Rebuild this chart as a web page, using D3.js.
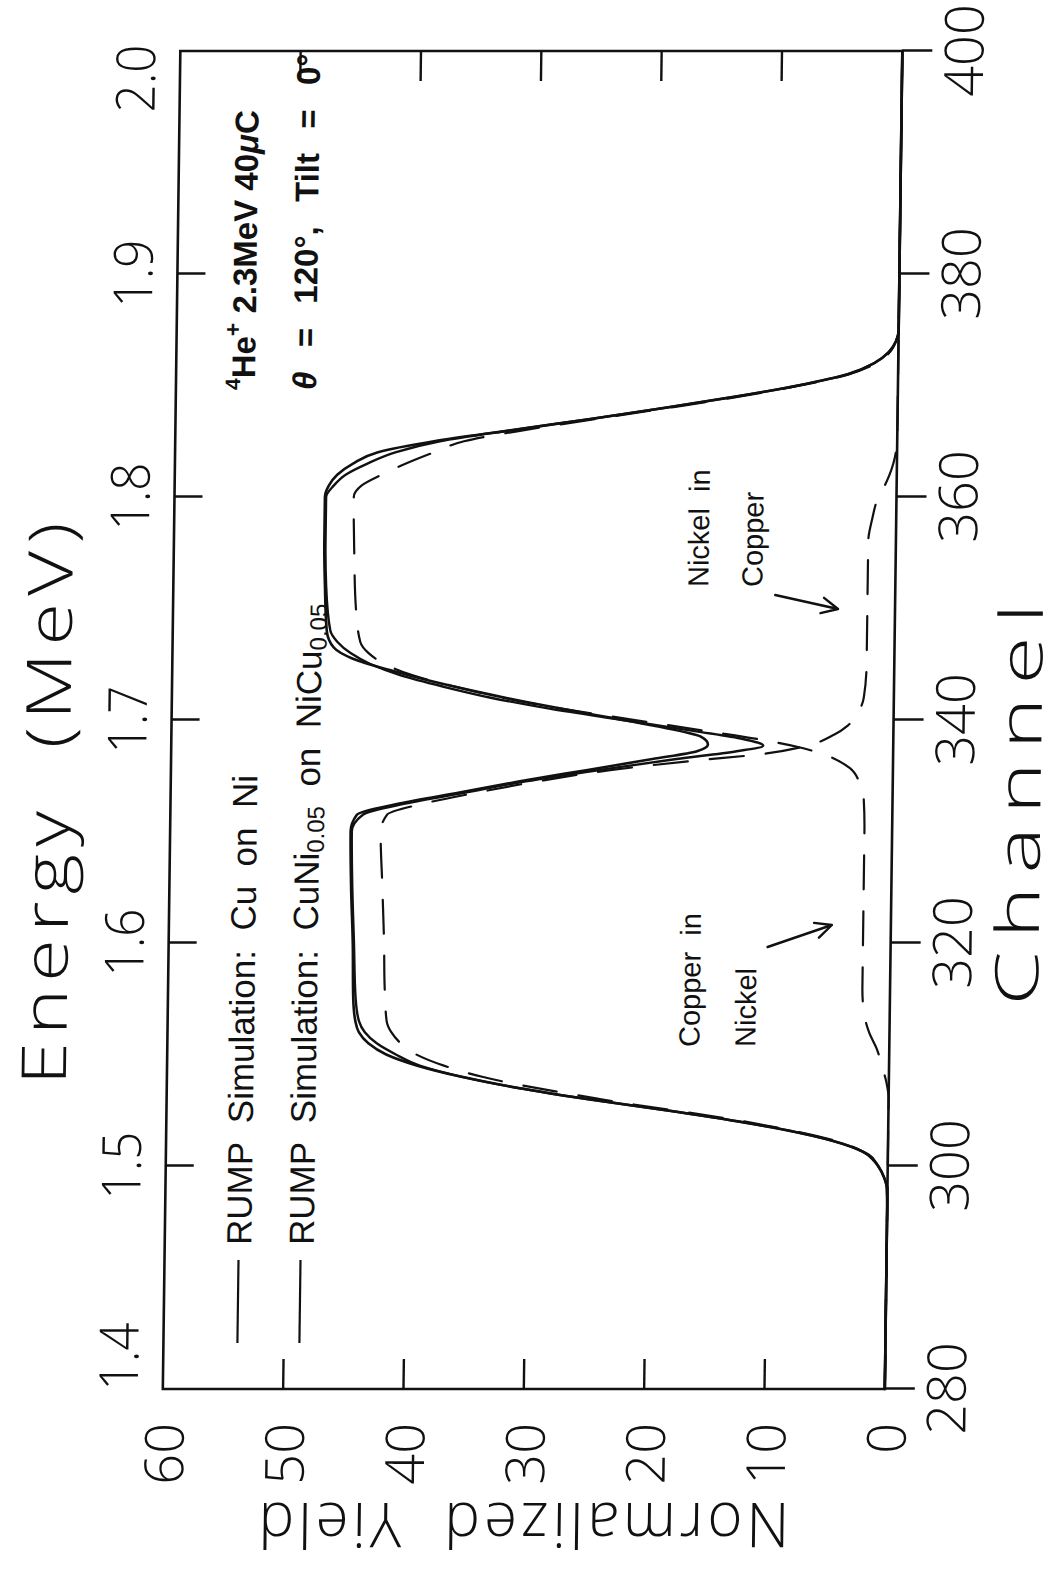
<!DOCTYPE html>
<html>
<head>
<meta charset="utf-8">
<script src="https://cdn.jsdelivr.net/npm/d3@7"></script>
<style>
  html, body { margin: 0; padding: 0; background: #fff; }
  svg { display: block; }
</style>
</head>
<body>
<svg id="chart" width="1059" height="1573"></svg>
<script>
// ---- Data: RUMP simulations of a 2.3 MeV 4He+ backscattering spectrum ----

// Simulation: Cu on Ni (solid)
const chCuOnNi = [280, 296, 298, 299, 300, 301, 302, 303, 304, 305, 306, 307, 308, 309, 310, 311, 312, 313, 315, 320, 325, 330,
  331.5, 332.5, 333.5, 334.5, 335.5, 336.5, 337.2, 337.8, 338.5, 339.5, 340.5, 341.5, 342.5, 343.5, 344.5, 345.5, 346.5, 348,
  352, 356, 360, 361, 362, 363, 364, 365, 366, 367, 368, 369, 370, 371, 372, 373, 374, 375, 400];
const yCuOnNi = [0, 0, 0.05, 0.3, 0.8, 1.6, 3.8, 7.5, 12.5, 18.5, 25, 30.8, 35.5, 39.2, 41.8, 43.3, 44.1, 44.4, 44.6, 44.7, 44.9, 45.0,
  44.5, 41, 36, 31, 25.5, 20, 16.3, 15.4, 16, 20, 25, 30, 34.5, 38.5, 42, 45, 46.6, 47.2,
  47.4, 47.5, 47.5, 47.2, 46.5, 45.2, 43.2, 38.5, 32, 25.5, 19.3, 13.5, 8.3, 4.2, 2.0, 0.8, 0.2, 0, 0];

// Simulation: CuNi0.05 on NiCu0.05 (solid)
const chCuNiOnNiCu = [280, 296, 298, 299, 300, 301, 302, 303, 304, 305, 306, 307, 308, 309, 310, 311, 312, 313, 315, 320, 325, 330,
  331.5, 332.5, 333.5, 334.5, 335.5, 336.5, 337.2, 337.7, 338.3, 339, 340, 341, 342, 343, 344, 345, 346, 347, 348,
  352, 356, 360, 361, 362, 363, 364, 365, 366, 367, 368, 369, 370, 371, 372, 373, 374, 375, 400];
const yCuNiOnNiCu = [0, 0, 0.05, 0.3, 0.8, 1.6, 3.8, 7.5, 12.5, 18.5, 25, 30.8, 35.5, 39, 41.0, 42.6, 43.6, 44.1, 44.4, 44.6, 44.8, 44.9,
  44.0, 40.5, 35.5, 30.5, 24.5, 18, 13, 10.8, 12.5, 16.5, 22.5, 28.5, 33.5, 37.5, 41, 43.5, 45.2, 46.3, 46.9,
  47.3, 47.4, 47.4, 46.8, 45.8, 44, 41.7, 38, 32, 25.5, 19.3, 13.5, 8.3, 4.2, 2.0, 0.8, 0.2, 0, 0];

// Elemental components of the CuNi0.05 on NiCu0.05 simulation (dashed)
const chNickelSignal = [280, 298, 300, 302, 304, 306, 308, 309, 310, 311, 312, 313, 316, 320, 325, 330,
  331.5, 332.5, 333.5, 334.5, 335.5, 336.3, 337, 337.6, 338.7, 339.5, 340.6, 342, 345, 356, 358, 360, 361, 362, 363, 364, 365, 400];
const yNickelSignal = [0, 0, 0.8, 3.6, 12, 24, 33.8, 37, 39.3, 40.6, 41.4, 41.8, 42.0, 42.1, 42.3, 42.5,
  42, 39, 34.5, 29.5, 23.5, 17, 10.5, 7.5, 4.9, 3.8, 3.0, 2.5, 2.3, 2.3, 2.0, 1.5, 1.0, 0.6, 0.3, 0.1, 0, 0];

const chCopperSignal = [280, 306, 307.5, 309, 310.4, 312, 313.5, 316, 330, 333, 334.5, 335.7, 337, 337.6, 338.2, 339, 340,
  341, 342, 343, 344, 345, 346, 347, 350, 355, 360, 361, 362, 363, 364, 365, 366, 367, 368, 369, 370, 371, 372, 373, 374, 375, 400];
const yCopperSignal = [0, 0, 0.2, 0.6, 1.0, 1.7, 2.1, 2.3, 2.3, 2.4, 2.8, 3.6, 6.0, 8.0, 10.8, 15.5, 21.5,
  27.5, 32.5, 36.5, 40, 42.3, 43.7, 44.4, 44.8, 45.0, 45.1, 44.5, 42.8, 40.8, 38.5, 36, 31, 25, 19, 13.2, 8.1, 4.1, 1.8, 0.7, 0.2, 0, 0];

// Axis ticks
const channelTicks = [280, 300, 320, 340, 360, 380, 400];
const yieldTicks = [0, 10, 20, 30, 40, 50, 60];
const energyTicks = [1.4, 1.5, 1.6, 1.7, 1.8, 1.9, 2.0];

// ---- Layout ----
// The plot is laid out landscape (channel across, yield up) and then
// turned a quarter turn counter-clockwise onto the portrait page.
const PAGE_W = 1059, PAGE_H = 1573;
const plot = { left: 184, right: 1522, top: 181, bottom: 903 };

const x = d3.scaleLinear().domain([280, 400]).range([plot.left, plot.right]);
const y = d3.scaleLinear().domain([0, 60]).range([plot.bottom, plot.top]);
const energy = d3.scaleLinear().domain([1.4, 2.0]).range([plot.left, plot.right]);

const svg = d3.select('#chart');
svg.append('rect').attr('width', PAGE_W).attr('height', PAGE_H).attr('fill', '#fff');

// slight paper skew of the printed figure
const page = svg.append('g').attr('transform', 'skewX(-0.75)');
const g = page.append('g').attr('transform', `translate(0,${PAGE_H}) rotate(-90)`);

const INK = '#111';
const thinFont = "'Open Sans', 'DejaVu Sans', sans-serif";
const textFont = "'Liberation Sans', Arial, sans-serif";

// ---- Frame ----
g.append('rect')
  .attr('x', plot.left).attr('y', plot.top)
  .attr('width', plot.right - plot.left).attr('height', plot.bottom - plot.top)
  .attr('fill', 'none').attr('stroke', INK).attr('stroke-width', 2.6);

// Channel axis (outward ticks)
const chAxis = g.append('g').attr('transform', `translate(0,${plot.bottom})`)
  .call(d3.axisBottom(x).tickValues(channelTicks).tickSize(30).tickPadding(12).tickFormat(d3.format('d')));
chAxis.select('.domain').remove();
chAxis.selectAll('line').attr('stroke', INK).attr('stroke-width', 2.4);
chAxis.selectAll('text')
  .attr('font-family', thinFont).attr('font-weight', 300).attr('font-size', 54)
  .attr('fill', INK).attr('dy', null).attr('y', 60).attr('dominant-baseline', 'central');

// Energy axis (inward ticks on the opposite side)
const enAxis = g.append('g').attr('transform', `translate(0,${plot.top})`)
  .call(d3.axisTop(energy).tickValues(energyTicks).tickSize(-28).tickFormat(d3.format('.1f')));
enAxis.select('.domain').remove();
enAxis.selectAll('.tick').filter(d => d === 1.4 || d === 2.0).select('line').remove();
enAxis.selectAll('line').attr('stroke', INK).attr('stroke-width', 2.4);
enAxis.selectAll('text')
  .attr('font-family', thinFont).attr('font-weight', 300).attr('font-size', 54)
  .attr('textLength', 68).attr('lengthAdjust', 'spacingAndGlyphs')
  .attr('fill', INK).attr('y', -46).attr('dominant-baseline', 'central')
  .attr('text-anchor', d => d === 1.4 ? 'start' : d === 2.0 ? 'end' : 'middle')
  .attr('dx', d => d === 1.4 ? -2 : d === 2.0 ? 6 : 0);

// Yield axis: labels on the left, inward ticks on both sides
const yAxis = g.append('g').attr('transform', `translate(${plot.left},0)`)
  .call(d3.axisLeft(y).tickValues(yieldTicks).tickSize(0).tickPadding(34).tickFormat(d3.format('d')));
yAxis.select('.domain').remove();
yAxis.selectAll('text')
  .attr('font-family', thinFont).attr('font-weight', 300).attr('font-size', 54)
  .attr('fill', INK).attr('dy', null).attr('dominant-baseline', 'central');

const innerYieldTicks = yieldTicks.filter(v => v > 0 && v < 60);
g.append('g').selectAll('line.yl').data(innerYieldTicks).join('line')
  .attr('x1', plot.left).attr('x2', plot.left + 30)
  .attr('y1', d => y(d)).attr('y2', d => y(d))
  .attr('stroke', INK).attr('stroke-width', 2.4);
g.append('g').selectAll('line.yr').data(innerYieldTicks).join('line')
  .attr('x1', plot.right).attr('x2', plot.right - 30)
  .attr('y1', d => y(d)).attr('y2', d => y(d))
  .attr('stroke', INK).attr('stroke-width', 2.4);

// ---- Axis titles (wide plotter lettering) ----
g.append('text')
  .attr('x', 773).attr('y', 56)
  .attr('text-anchor', 'middle').attr('dominant-baseline', 'central')
  .attr('font-family', thinFont).attr('font-weight', 300).attr('font-size', 62)
  .attr('letter-spacing', 6).attr('xml:space', 'preserve')
  .attr('textLength', 570).attr('lengthAdjust', 'spacingAndGlyphs')
  .attr('fill', INK).text('Energy  (MeV)');

g.append('text')
  .attr('x', 775).attr('y', 1028)
  .attr('text-anchor', 'middle').attr('dominant-baseline', 'central')
  .attr('font-family', thinFont).attr('font-weight', 300).attr('font-size', 60)
  .attr('letter-spacing', 9)
  .attr('textLength', 415).attr('lengthAdjust', 'spacingAndGlyphs')
  .attr('fill', INK).text('Channel');

g.append('text')
  .attr('transform', `translate(46,${(plot.top + plot.bottom) / 2}) rotate(-90)`)
  .attr('text-anchor', 'middle').attr('dominant-baseline', 'central')
  .attr('font-family', thinFont).attr('font-weight', 300).attr('font-size', 62)
  .attr('letter-spacing', 4).attr('xml:space', 'preserve')
  .attr('textLength', 535).attr('lengthAdjust', 'spacingAndGlyphs')
  .attr('fill', INK).text('Normalized  Yield');

// ---- Curves ----
const line = d3.line().x(d => x(d[0])).y(d => y(d[1])).curve(d3.curveMonotoneX);
const zip = (a, b) => a.map((c, i) => [c, b[i]]);

const curves = g.append('g').attr('fill', 'none').attr('stroke', INK)
  .attr('stroke-linejoin', 'round').attr('stroke-linecap', 'round');

curves.append('path').attr('d', line(zip(chNickelSignal, yNickelSignal)))
  .attr('stroke-width', 2.2).attr('stroke-dasharray', '34 22');
curves.append('path').attr('d', line(zip(chCopperSignal, yCopperSignal)))
  .attr('stroke-width', 2.2).attr('stroke-dasharray', '34 22');
curves.append('path').attr('d', line(zip(chCuOnNi, yCuOnNi)))
  .attr('stroke-width', 2.6);
curves.append('path').attr('d', line(zip(chCuNiOnNiCu, yCuNiOnNiCu)))
  .attr('stroke-width', 2.4);

// ---- Legend ----
const legend = g.append('g').attr('font-family', textFont).attr('font-size', 35).attr('fill', INK);
const legendRows = [255, 317];
legendRows.forEach(ry => {
  legend.append('line').attr('x1', 230).attr('x2', 313).attr('y1', ry).attr('y2', ry)
    .attr('stroke', INK).attr('stroke-width', 2.2);
});
const l1 = legend.append('text').attr('x', 328).attr('y', legendRows[0]).attr('dominant-baseline', 'central')
  .attr('xml:space', 'preserve');
l1.text('RUMP  Simulation:  Cu  on  Ni');
const l2 = legend.append('text').attr('x', 328).attr('y', legendRows[1]).attr('dominant-baseline', 'central')
  .attr('xml:space', 'preserve');
l2.append('tspan').text('RUMP  Simulation:  CuNi');
l2.append('tspan').attr('dy', 9).attr('font-size', 24).text('0.05');
l2.append('tspan').attr('dy', -9).text('  on  NiCu');
l2.append('tspan').attr('dy', 9).attr('font-size', 24).text('0.05');

// ---- Beam annotation ----
const note = g.append('g').attr('font-family', textFont).attr('font-weight', 'bold').attr('font-size', 33).attr('fill', INK);
const n1 = note.append('text').attr('x', 1183).attr('y', 248).attr('dominant-baseline', 'central')
  .attr('xml:space', 'preserve');
n1.append('tspan').attr('dy', -11).attr('font-size', 21).text('4');
n1.append('tspan').attr('dy', 11).text('He');
n1.append('tspan').attr('dy', -11).attr('font-size', 23).text('+');
n1.append('tspan').attr('dy', 11).text(' 2.3MeV 40');
n1.append('tspan').attr('font-style', 'italic').text('μ');
n1.append('tspan').text('C');

const n2 = note.append('text').attr('x', 1183).attr('y', 309).attr('dominant-baseline', 'central')
  .attr('xml:space', 'preserve').attr('word-spacing', 3);
n2.append('tspan').attr('font-style', 'italic').text('θ');
n2.append('tspan').text('  =  120°,  Tilt  =  0°');

// ---- Component labels with arrows ----
const labels = g.append('g').attr('font-family', textFont).attr('font-size', 29).attr('fill', INK);
labels.append('text').attr('x', 986).attr('y', 706).attr('dominant-baseline', 'central')
  .attr('xml:space', 'preserve').text('Nickel  in');
labels.append('text').attr('x', 986).attr('y', 760).attr('dominant-baseline', 'central').text('Copper');
labels.append('text').attr('x', 526).attr('y', 703).attr('dominant-baseline', 'central')
  .attr('xml:space', 'preserve').text('Copper  in');
labels.append('text').attr('x', 526).attr('y', 759).attr('dominant-baseline', 'central').text('Nickel');

function arrow(x1, y1, x2, y2) {
  const a = Math.atan2(y2 - y1, x2 - x1), len = 18, spread = 0.45;
  const path = d3.path();
  path.moveTo(x1, y1); path.lineTo(x2, y2);
  path.moveTo(x2 - len * Math.cos(a - spread), y2 - len * Math.sin(a - spread));
  path.lineTo(x2, y2);
  path.lineTo(x2 - len * Math.cos(a + spread), y2 - len * Math.sin(a + spread));
  g.append('path').attr('d', path.toString()).attr('fill', 'none')
    .attr('stroke', INK).attr('stroke-width', 2.4).attr('stroke-linecap', 'round').attr('stroke-linejoin', 'round');
}
arrow(978, 783, 964, 846);
arrow(626, 780, 648, 844);
</script>
</body>
</html>
